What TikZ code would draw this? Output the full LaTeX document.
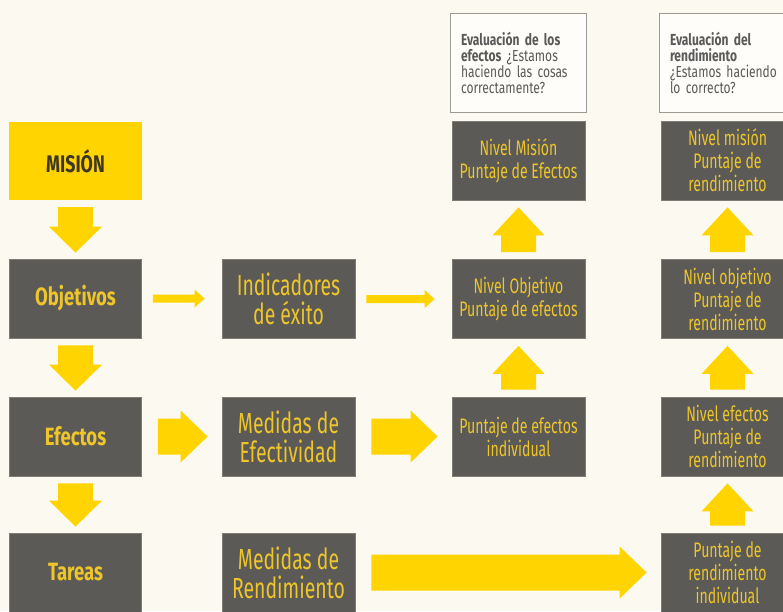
\documentclass[tikz,border=0pt]{standalone}
\usepackage{fontspec}
\setmainfont{Fira Sans}
\newfontfamily\condr[FakeStretch=0.67]{Fira Sans}
\newfontfamily\condb[FakeStretch=0.74]{Fira Sans}
\newfontfamily\conde[FakeStretch=0.75]{Fira Sans}
\usetikzlibrary{calc}
\definecolor{bg}{HTML}{FCF9F1}
\definecolor{boxgray}{HTML}{5B5A57}
\definecolor{boxedge}{HTML}{7E7C76}
\definecolor{gold}{HTML}{FFD400}
\definecolor{goldtext}{HTML}{EEC62A}
\definecolor{darktext}{HTML}{3E3622}
\definecolor{evaltext}{HTML}{5A5A5A}
\definecolor{evaledge}{HTML}{9C9A94}
\tikzset{
 graybox/.style={fill=boxgray, draw=boxedge, line width=0.8pt, minimum width=133pt, minimum height=79pt, inner sep=0pt, align=center, text=goldtext},
 leftbox/.style={graybox, minimum width=132pt, font=\condb\bfseries\fontsize{25}{28}\selectfont},
 midbox/.style={graybox, font=\condr\fontsize{29}{29}\selectfont},
 rightbox/.style={graybox, font=\condr\fontsize{21}{23}\selectfont},
 missionbox/.style={fill=gold, minimum width=133pt, minimum height=78pt, inner sep=0pt, text=darktext, font=\condb\bfseries\fontsize{24}{28}\selectfont},
 evalbox/.style={draw=evaledge, fill=white!60!bg, line width=0.8pt, minimum width=136pt, minimum height=99pt, inner sep=0pt, text width=114pt, align=left, text=evaltext, font=\conde\fontsize{16}{16}\selectfont},
 fat/.style={fill=gold}
}
\newcommand\fatdown[2]{\fill[fat] let \p1=(#1.south), \p2=(#2.north) in
  (\x1-17.5pt,\y1-7pt) -- (\x1+17.5pt,\y1-7pt) -- (\x1+17.5pt,\y2+32pt) -- (\x1+26.5pt,\y2+32pt)
  -- (\x1,\y2+6pt) -- (\x1-26.5pt,\y2+32pt) -- (\x1-17.5pt,\y2+32pt) -- cycle;}
\newcommand\fatup[2]{\fill[fat] let \p1=(#1.north), \p2=(#2.south) in
  (\x1-17.5pt,\y1+7pt) -- (\x1+17.5pt,\y1+7pt) -- (\x1+17.5pt,\y2-35pt) -- (\x1+26pt,\y2-35pt)
  -- (\x1,\y2-7pt) -- (\x1-26pt,\y2-35pt) -- (\x1-17.5pt,\y2-35pt) -- cycle;}
\newcommand\fatright[2]{\fill[fat] let \p1=(#1.east), \p2=(#2.west) in
  (\x1+16pt,\y1+18pt) -- (\x2-41pt,\y1+18pt) -- (\x2-41pt,\y1+26pt) -- (\x2-14pt,\y1)
  -- (\x2-41pt,\y1-26pt) -- (\x2-41pt,\y1-18pt) -- (\x1+16pt,\y1-18pt) -- cycle;}
\newcommand\thinright[2]{\fill[fat] let \p1=(#1.east), \p2=(#2.west) in
  (\x1+11pt,\y1+4pt) -- (\x2-27pt,\y1+4pt) -- (\x2-27pt,\y1+9pt) -- (\x2-17pt,\y1)
  -- (\x2-27pt,\y1-9pt) -- (\x2-27pt,\y1-4pt) -- (\x1+11pt,\y1-4pt) -- cycle;}
\begin{document}
\begin{tikzpicture}[x=1pt,y=-1pt]
\fill[bg] (0,0) rectangle (783,611);
\useasboundingbox (0,0) rectangle (783,611);
\node[missionbox] (mis) at (75.5,161) {MISIÓN};
\node[leftbox] (obj) at (75.5,298.5) {Objetivos};
\node[leftbox] (efe) at (75.5,436.5) {Efectos};
\node[leftbox] (tar) at (75.5,572.5) {Tareas};
\node[midbox] (ind) at (288.5,299) {Indicadores\\de éxito};
\node[midbox] (mef) at (288.5,436.5) {Medidas de\\Efectividad};
\node[midbox] (mre) at (288.5,572.5) {Medidas de\\Rendimiento};
\node[rightbox] (nme) at (518.5,160.5) {Nivel Misión\\Puntaje de Efectos};
\node[rightbox] (noe) at (518.5,299) {Nivel Objetivo\\Puntaje de efectos};
\node[rightbox] (pei) at (518.5,436.5) {Puntaje de efectos\\individual};
\node[rightbox] (nmr) at (727.5,160.5) {Nivel misión\\Puntaje de\\rendimiento};
\node[rightbox] (nor) at (727.5,299) {Nivel objetivo\\Puntaje de\\rendimiento};
\node[rightbox] (ner) at (727.5,436.5) {Nivel efectos\\Puntaje de\\rendimiento};
\node[rightbox] (pri) at (727.5,572.5) {Puntaje de\\rendimiento\\individual};
\node[evalbox] (ev1) at (518,62.5) {\textbf{Evaluación de los}\\\textbf{efectos} ¿Estamos\\haciendo las cosas\\correctamente?};
\node[evalbox] (ev2) at (727,62.5) {\textbf{Evaluación del}\\\textbf{rendimiento}\\¿Estamos haciendo\\lo correcto?};
\fatdown{mis}{obj}
\fatdown{obj}{efe}
\fatdown{efe}{tar}
\thinright{obj}{ind}
\thinright{ind}{noe}
\fatright{efe}{mef}
\fatright{mef}{pei}
\fatright{mre}{pri}
\fatup{pei}{noe}
\fatup{noe}{nme}
\fatup{pri}{ner}
\fatup{ner}{nor}
\fatup{nor}{nmr}
\end{tikzpicture}
\end{document}
